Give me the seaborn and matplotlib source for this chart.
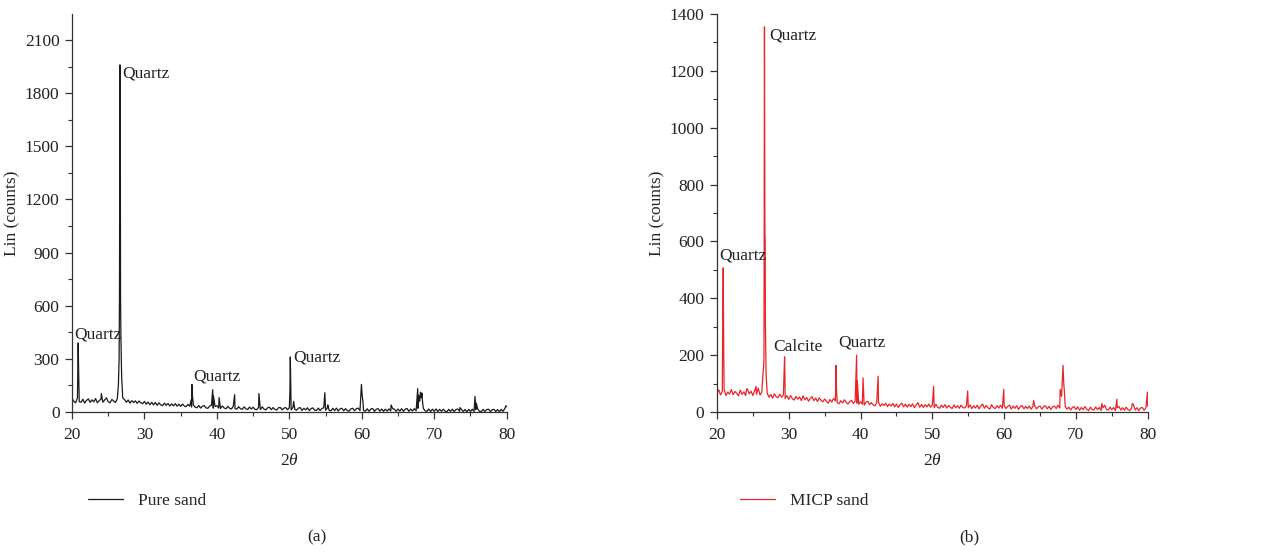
import numpy as np
import pandas as pd
import matplotlib
matplotlib.use("Agg")
import matplotlib.pyplot as plt
import seaborn as sns
from matplotlib.ticker import MultipleLocator

# ---- diffraction data ------------------------------------------------------
# background sampled every 0.25 deg from 20 to 80 deg (2-theta)
grid_2theta = np.round(np.arange(20.0, 80.0001, 0.25), 2)

pure_background = [
    78, 60, 52, 80, 58, 55, 72, 50, 66, 74, 54, 69, 57, 76, 52, 64, 73, 55, 68, 80,
    58, 52, 71, 62, 54, 75, 300, 420, 80, 70, 55, 68, 50, 64, 54, 63, 49, 62, 52, 47,
    60, 44, 56, 41, 55, 40, 54, 38, 52, 40, 36, 50, 38, 48, 34, 46, 35, 47, 33, 44,
    32, 45, 34, 30, 43, 33, 28, 40, 27, 24, 37, 22, 33, 36, 23, 21, 34, 38, 22, 31,
    36, 22, 20, 34, 23, 18, 32, 21, 17, 31, 20, 16, 30, 19, 15, 29, 18, 14, 28, 17,
    27, 15, 13, 26, 14, 29, 17, 12, 24, 27, 13, 25, 15, 11, 24, 26, 12, 22, 25, 13,
    24, 12, 26, 15, 10, 22, 25, 9, 21, 12, 24, 8, 20, 23, 10, 9, 22, 8, 20, 24,
    10, 23, 9, 7, 21, 8, 22, 6, 18, 21, 7, 19, 8, 5, 18, 21, 7, 19, 22, 8,
    120, 8, 5, 18, 4, 17, 20, 4, 16, 19, 5, 17, 4, 16, 5, 18, 6, 19, 16, 4,
    17, 5, 19, 4, 16, 20, 4, 17, 6, 19, 7, 21, 60, 90, 20, 6, 4, 17, 3, 16,
    4, 17, 3, 15, 4, 16, 5, 2, 15, 4, 16, 3, 14, 17, 4, 15, 3, 14, 2, 15,
    3, 16, 3, 14, 17, 4, 2, 15, 3, 14, 16, 2, 13, 15, 3, 14, 2, 15, 4, 20,
    30,
]

micp_background = [
    66, 78, 60, 72, 80, 58, 70, 63, 79, 61, 72, 66, 57, 77, 62, 71, 58, 80, 64, 73,
    58, 76, 62, 84, 60, 70, 160, 300, 66, 52, 62, 49, 64, 54, 50, 63, 52, 60, 47, 58,
    44, 58, 47, 42, 55, 45, 53, 40, 57, 43, 51, 38, 48, 54, 40, 49, 37, 50, 41, 36,
    46, 37, 31, 44, 35, 48, 39, 33, 29, 40, 32, 43, 34, 28, 37, 41, 30, 38, 31, 27,
    36, 28, 24, 34, 38, 26, 33, 25, 22, 32, 35, 20, 29, 23, 31, 19, 28, 21, 30, 18,
    28, 16, 26, 31, 18, 28, 17, 27, 19, 29, 15, 25, 33, 17, 27, 16, 26, 18, 28, 17,
    25, 15, 27, 17, 13, 24, 16, 26, 14, 23, 17, 12, 25, 15, 22, 13, 24, 16, 14, 23,
    15, 25, 12, 22, 14, 24, 11, 21, 28, 13, 23, 15, 10, 26, 16, 12, 22, 14, 24, 13,
    22, 12, 20, 24, 10, 21, 13, 22, 9, 19, 23, 11, 20, 12, 21, 10, 19, 22, 11, 18,
    21, 10, 19, 22, 11, 20, 9, 18, 21, 12, 24, 14, 55, 130, 20, 10, 17, 7, 16, 19,
    9, 18, 6, 16, 8, 19, 10, 5, 17, 9, 7, 18, 8, 16, 6, 15, 24, 9, 7, 17,
    8, 16, 5, 15, 19, 7, 15, 6, 17, 8, 5, 14, 26, 7, 15, 5, 14, 16, 6, 15,
    20,
]

# reflection maxima and shoulders
pure_peak_2theta = [20.80, 20.85, 20.92, 24.05,
                    26.40, 26.55, 26.62, 26.66, 26.70, 26.85,
                    36.45, 36.55, 36.62, 39.42, 39.52, 40.30, 42.45, 45.80,
                    50.08, 50.13, 50.18, 50.22, 50.60, 54.90, 55.30,
                    59.95, 60.05, 60.15, 64.05,
                    67.72, 67.85, 68.10, 68.20, 68.30, 68.40,
                    73.55, 75.62, 75.80, 79.90]
pure_peak_counts = [240, 390, 215, 104,
                    150, 640, 1960, 1730, 640, 200,
                    70, 156, 95, 126, 90, 81, 98, 104,
                    120, 311, 185, 120, 60, 109, 40,
                    156, 95, 60, 40,
                    132, 95, 112, 80, 107, 50,
                    25, 88, 50, 35]

micp_peak_2theta = [20.80, 20.87, 20.95, 24.15, 25.45,
                    26.40, 26.55, 26.62, 26.68, 26.72, 26.85,
                    29.42, 29.48, 36.58, 36.65, 39.45, 39.55, 40.35, 42.45,
                    50.18, 54.92, 59.95, 64.10,
                    67.80, 68.12, 68.20, 68.30, 68.40,
                    73.60, 75.70, 77.85, 79.95]
micp_peak_counts = [300, 507, 200, 82, 90,
                    130, 194, 1355, 634, 600, 130,
                    194, 110, 164, 80, 200, 110, 120, 126,
                    90, 74, 80, 41,
                    80, 120, 164, 100, 70,
                    30, 45, 30, 70]

# phase labels: (text, 2-theta, counts)
pure_labels = [("Quartz", 20.3, 440), ("Quartz", 27.0, 1910),
               ("Quartz", 36.7, 200), ("Quartz", 50.5, 305)]
micp_labels = [("Quartz", 20.37, 552), ("Quartz", 27.24, 1326),
               ("Calcite", 27.8, 229), ("Quartz", 36.94, 243)]


def pattern(background, peak_x, peak_y, name):
    df = pd.DataFrame({
        "2theta": np.concatenate([grid_2theta, peak_x]),
        "counts": np.concatenate([background, peak_y]),
    })
    df = df.sort_values("2theta", kind="mergesort").reset_index(drop=True)
    df["sample"] = name
    return df


pure = pattern(pure_background, pure_peak_2theta, pure_peak_counts, "Pure sand")
micp = pattern(micp_background, micp_peak_2theta, micp_peak_counts, "MICP sand")

# ---- styling ---------------------------------------------------------------
sns.set_theme(style="ticks")
plt.rcParams["font.family"] = ["Liberation Serif", "DejaVu Serif"]
plt.rcParams["mathtext.fontset"] = "custom"
plt.rcParams["mathtext.rm"] = "Liberation Serif"
plt.rcParams["mathtext.it"] = "Liberation Serif:italic"

FS = 12.5
TXT = "#222222"

fig = plt.figure(figsize=(12.86, 5.52), dpi=100)
ax_a = fig.add_axes([0.056, 0.2536, 0.338, 0.721])
ax_b = fig.add_axes([0.5575, 0.2536, 0.335, 0.721])

panels = [
    (ax_a, pure, "#1a1a1a", 2247, 300, 150, pure_labels, 0.0684, "(a)", 0.2465),
    (ax_b, micp, "#e8262a", 1400, 200, 100, micp_labels, 0.5755, "(b)", 0.754),
]

for ax, df, color, ytop, major, minor, labels, legx, cap, capx in panels:
    sns.lineplot(data=df, x="2theta", y="counts", ax=ax, color=color,
                 linewidth=0.9, estimator=None, sort=False,
                 label=df["sample"].iloc[0])
    ax.set_xlim(20, 80)
    ax.set_ylim(0, ytop)
    ax.xaxis.set_major_locator(MultipleLocator(10))
    ax.xaxis.set_minor_locator(MultipleLocator(5))
    ax.yaxis.set_major_locator(MultipleLocator(major))
    ax.yaxis.set_minor_locator(MultipleLocator(minor))
    ax.tick_params(which="major", length=5, width=0.9, labelsize=FS,
                   color="#333333", labelcolor=TXT)
    ax.tick_params(axis="x", which="major", pad=6)
    ax.tick_params(axis="y", which="major", pad=4)
    ax.tick_params(which="minor", length=3, width=0.8, color="#333333")
    for side in ("top", "right"):
        ax.spines[side].set_visible(False)
    for side in ("left", "bottom"):
        ax.spines[side].set_linewidth(0.9)
        ax.spines[side].set_color("#333333")
    ax.set_xlabel(r"$2\mathit{\theta}$", fontsize=FS, labelpad=7, color=TXT)
    ax.set_ylabel("Lin (counts)", fontsize=FS, labelpad=3, color=TXT)
    for text, x, y in labels:
        ax.text(x, y, text, fontsize=FS, va="center", ha="left", color=TXT)
    ax.legend(loc="center left", bbox_to_anchor=(legx, 0.0924),
              bbox_transform=fig.transFigure, frameon=False, fontsize=FS,
              handlelength=2.0, handletextpad=0.9, borderpad=0, borderaxespad=0)
    fig.text(capx, 0.027, cap, fontsize=FS, ha="center", va="center", color=TXT)

fig.savefig("out.png", dpi=100)
